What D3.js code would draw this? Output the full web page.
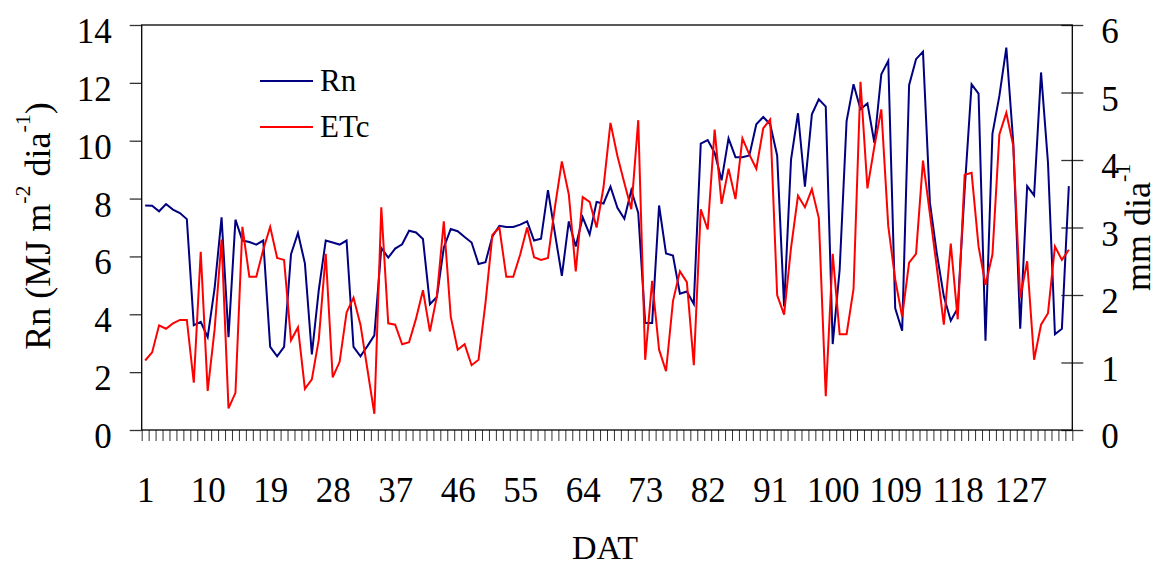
<!DOCTYPE html>
<html>
<head>
<meta charset="utf-8">
<script src="https://cdn.jsdelivr.net/npm/d3@7"></script>
<style>
  body { margin: 0; background: #fff; }
  text { font-family: "Liberation Serif", "Times New Roman", serif; fill: #000; }
</style>
</head>
<body>
<svg id="chart" width="1158" height="568"></svg>
<script>
// days after transplanting (DAT), 134 days
const days = d3.range(1, 135);

// net radiation, MJ m-2 dia-1 (left axis)
const rn = [
  7.76, 7.75, 7.56, 7.81, 7.62, 7.5, 7.29, 3.62, 3.74, 3.21,
  4.9, 7.35, 3.21, 7.27, 6.55, 6.5, 6.41, 6.55, 2.87, 2.55,
  2.87, 6.08, 6.81, 5.76, 2.61, 4.84, 6.55, 6.48, 6.41, 6.55,
  2.87, 2.55, 2.9, 3.27, 6.29, 5.96, 6.27, 6.42, 6.89, 6.83,
  6.6, 4.35, 4.6, 6.3, 6.95, 6.87, 6.67, 6.48, 5.74, 5.8,
  6.69, 7.06, 7.02, 7.02, 7.1, 7.21, 6.55, 6.61, 8.29, 6.8,
  5.33, 7.21, 6.34, 7.35, 6.76, 7.88, 7.83, 8.41, 7.68, 7.3,
  8.29, 7.5, 3.7, 3.7, 7.76, 6.1, 6.03, 4.71, 4.79, 4.36,
  9.9, 10.02, 9.58, 8.63, 10.08, 9.43, 9.43, 9.49, 10.57, 10.82,
  10.57, 9.49, 4.27, 9.35, 10.95, 8.41, 10.91, 11.43, 11.18, 2.97,
  5.54, 10.68, 11.95, 11.09, 11.29, 9.93, 12.3, 12.76, 4.21, 3.43,
  11.92, 12.82, 13.08, 7.85, 6.09, 4.62, 3.78, 4.21, 8.3, 11.95,
  11.63, 3.09, 10.24, 11.55, 13.22, 9.93, 3.5, 8.43, 8.11, 12.36,
  9.24, 3.31, 3.5, 8.43
];

// crop evapotranspiration, mm dia-1 (right axis)
const etc = [
  1.03, 1.15, 1.55, 1.5, 1.58, 1.63, 1.63, 0.7, 2.64, 0.58,
  1.49, 2.82, 0.32, 0.55, 3.01, 2.27, 2.27, 2.67, 3.01, 2.55,
  2.52, 1.33, 1.52, 0.61, 0.75, 1.34, 2.61, 0.78, 1.01, 1.74,
  1.96, 1.56, 0.9, 0.24, 3.3, 1.58, 1.56, 1.27, 1.3, 1.65,
  2.07, 1.46, 1.98, 3.09, 1.68, 1.19, 1.27, 0.96, 1.04, 1.88,
  2.89, 3.0, 2.27, 2.27, 2.6, 3.0, 2.56, 2.52, 2.55, 3.3,
  3.98, 3.49, 2.35, 3.45, 3.38, 3.0, 3.6, 4.55, 4.06, 3.66,
  3.27, 4.59, 1.04, 2.21, 1.19, 0.87, 1.91, 2.35, 2.19, 0.96,
  3.27, 2.97, 4.45, 3.35, 3.87, 3.42, 4.32, 4.08, 3.87, 4.47,
  4.6, 2.0, 1.71, 2.7, 3.47, 3.3, 3.57, 3.14, 0.5, 2.61,
  1.42, 1.42, 2.09, 5.16, 3.58, 4.2, 4.75, 3.02, 2.23, 1.68,
  2.48, 2.61, 3.99, 3.2, 2.4, 1.56, 2.76, 1.64, 3.78, 3.81,
  2.72, 2.15, 2.6, 4.38, 4.7, 4.21, 1.96, 2.5, 1.04, 1.56,
  1.73, 2.72, 2.52, 2.67
];

const dayLabels = [1, 10, 19, 28, 37, 46, 55, 64, 73, 82, 91, 100, 109, 118, 127];
const rnTicks = [0, 2, 4, 6, 8, 10, 12, 14];
const etcTicks = [0, 1, 2, 3, 4, 5, 6];

const svg = d3.select("#chart");
const plotLeft = 141.7, plotRight = 1072.3, plotTop = 25, plotBottom = 430;

const x = d3.scaleLinear().domain([0.5, days.length + 0.5]).range([plotLeft, plotRight]);
const yL = d3.scaleLinear().domain([0, 14]).range([plotBottom, plotTop]);
const yR = d3.scaleLinear().domain([0, 6]).range([plotBottom, plotTop]);

// x axis: a tick between every day, labels every 9 days
let xTicks = svg.append("g")
    .attr("transform", "translate(0," + plotBottom + ")")
    .call(d3.axisBottom(x).tickValues(d3.range(0.5, days.length + 1, 1)).tickSize(11).tickFormat(""));
xTicks.select(".domain").remove();
xTicks.selectAll("line").attr("stroke", "#333");

let xLabels = svg.append("g")
    .attr("transform", "translate(0," + plotBottom + ")")
    .call(d3.axisBottom(x).tickValues(dayLabels).tickSize(0).tickFormat(d3.format("d")));
xLabels.select(".domain").remove();
xLabels.selectAll("text")
    .attr("y", 72).attr("dy", 0)
    .attr("font-size", 35)
    .attr("font-family", "Liberation Serif");

// left axis
let axL = svg.append("g")
    .attr("transform", "translate(" + plotLeft + ",0)")
    .call(d3.axisLeft(yL).tickValues(rnTicks).tickSize(12).tickPadding(18).tickFormat(d3.format("d")));
axL.select(".domain").remove();
axL.selectAll("line").attr("stroke", "#333").attr("stroke-width", 1.3);
axL.selectAll("text")
    .attr("dy", "0.5em")
    .attr("font-size", 35)
    .attr("font-family", "Liberation Serif");

// right axis, ticks cross the line
let axR = svg.append("g")
    .attr("transform", "translate(" + plotRight + ",0)")
    .call(d3.axisRight(yR).tickValues(etcTicks).tickSize(11).tickPadding(18).tickFormat(d3.format("d")));
axR.select(".domain").remove();
axR.selectAll("line").attr("x1", -11).attr("stroke", "#333").attr("stroke-width", 1.3);
axR.selectAll("text")
    .attr("dy", "0.5em")
    .attr("font-size", 35)
    .attr("font-family", "Liberation Serif");

// frame
svg.append("rect")
    .attr("x", plotLeft).attr("y", plotTop)
    .attr("width", plotRight - plotLeft).attr("height", plotBottom - plotTop)
    .attr("fill", "none")
    .attr("stroke", "#000")
    .attr("stroke-width", 1.3);

// series
let rnLine = d3.line().x((d, i) => x(days[i])).y(d => yL(d));
let etcLine = d3.line().x((d, i) => x(days[i])).y(d => yR(d));

svg.append("path")
    .datum(rn)
    .attr("fill", "none")
    .attr("stroke", "#000080")
    .attr("stroke-width", 2)
    .attr("d", rnLine);

svg.append("path")
    .datum(etc)
    .attr("fill", "none")
    .attr("stroke", "#ff0000")
    .attr("stroke-width", 2)
    .attr("d", etcLine);

// legend
let legend = svg.append("g");
[["Rn", "#000080", 81], ["ETc", "#ff0000", 127]].forEach(function(item) {
    legend.append("line")
        .attr("x1", 260).attr("x2", 313)
        .attr("y1", item[2]).attr("y2", item[2])
        .attr("stroke", item[1])
        .attr("stroke-width", 2);
    legend.append("text")
        .attr("x", 320).attr("y", item[2] + 10)
        .attr("font-size", 31)
        .text(item[0]);
});

// axis titles
let titleL = svg.append("text")
    .attr("transform", "translate(50,226) rotate(-90)")
    .attr("text-anchor", "middle")
    .attr("font-size", 36);
titleL.append("tspan").text("Rn (MJ m");
titleL.append("tspan").attr("font-size", 22).attr("dy", -20).text("-2");
titleL.append("tspan").attr("dy", 20).text(" dia");
titleL.append("tspan").attr("font-size", 22).attr("dy", -20).text("-1");
titleL.append("tspan").attr("dy", 20).text(")");

let titleR = svg.append("text")
    .attr("transform", "translate(1150,291) rotate(-90)")
    .attr("text-anchor", "start")
    .attr("font-size", 36);
titleR.append("tspan").text("mm dia");
titleR.append("tspan").attr("font-size", 22).attr("dy", -20).text("-1");

svg.append("text")
    .attr("x", 605).attr("y", 559)
    .attr("text-anchor", "middle")
    .attr("font-size", 34)
    .text("DAT");
</script>
</body>
</html>
